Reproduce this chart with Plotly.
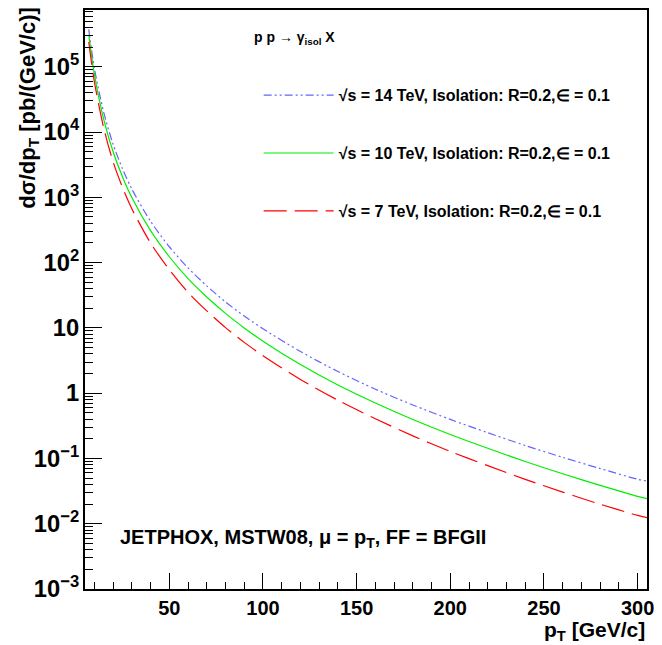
import plotly.graph_objects as go

# pT values (GeV/c)
pt = [7, 10, 15, 20, 25, 30, 40, 50, 60, 70, 80, 90, 100, 120, 140, 160, 180,
      200, 220, 240, 260, 280, 300, 305]

# dsigma/dpT (pb/(GeV/c))
xs_14 = [3.75e5, 9.5e4, 2.0e4, 6.5e3, 2.75e3, 1.34e3, 430, 175, 83, 44, 25, 15.2,
         9.7, 4.35, 2.15, 1.15, 0.66, 0.396, 0.248, 0.158, 0.104, 0.070, 0.048, 0.045]
xs_10 = [3.1e5, 7.7e4, 1.57e4, 5.0e3, 2.07e3, 993, 309, 123, 57, 29.8, 16.7, 10.0,
         6.25, 2.74, 1.33, 0.706, 0.395, 0.233, 0.143, 0.0898, 0.0582, 0.0386, 0.0262, 0.0243]
xs_7 = [2.4e5, 5.9e4, 1.16e4, 3.5e3, 1.42e3, 670, 200, 78, 35, 18.2, 10.1, 6.0,
        3.75, 1.62, 0.78, 0.405, 0.222, 0.128, 0.0775, 0.0478, 0.0305, 0.0199, 0.0134, 0.0124]

names = ["√s = 14 TeV, Isolation: R=0.2,∈ = 0.1",
         "√s = 10 TeV, Isolation: R=0.2,∈ = 0.1",
         "√s = 7 TeV, Isolation: R=0.2,∈ = 0.1"]
colors = ["#6464ff", "#00ee00", "#ff0000"]
dashes = ["8px,3px,2px,3px,2px,3px", "solid", "23px,8px"]

FONT = "Liberation Sans, Arial, sans-serif"

fig = go.Figure()
for i, ys in enumerate([xs_14, xs_10, xs_7]):
    fig.add_trace(go.Scatter(
        x=pt, y=ys, mode="lines", name=names[i], legendgroup=str(i),
        line=dict(color=colors[i], width=1.2, dash=dashes[i], shape="spline", smoothing=0.8),
    ))

fig.update_layout(
    width=662, height=645,
    margin=dict(l=85, r=14, t=8, b=56),
    paper_bgcolor="white", plot_bgcolor="white",
    font=dict(family=FONT, color="black"),
    showlegend=True,
    legend=dict(
        x=0.309, y=0.882, xanchor="left", yanchor="top",
        bgcolor="rgba(0,0,0,0)", borderwidth=0,
        font=dict(family=FONT, size=16, weight="bold"),
        itemwidth=70, tracegroupgap=34,
    ),
    xaxis=dict(
        range=[5, 305], tick0=0, dtick=50,
        showgrid=False, zeroline=False,
        showline=True, linecolor="black", linewidth=2, mirror=True,
        ticks="inside", ticklen=16, tickwidth=1, tickcolor="black",
        tickfont=dict(family=FONT, size=20, weight="bold"),
        minor=dict(ticks="inside", ticklen=7, dtick=10, tickcolor="black", showgrid=False),
    ),
    yaxis=dict(
        type="log", range=[-3, 5.87], dtick=1, exponentformat="power",
        showgrid=False, zeroline=False,
        showline=True, linecolor="black", linewidth=2, mirror=True,
        ticks="inside", ticklen=17, tickwidth=1, tickcolor="black",
        tickfont=dict(family=FONT, size=19, weight="bold"),
        minor=dict(ticks="inside", ticklen=8, dtick="D1", tickcolor="black", showgrid=False),
    ),
    annotations=[
        dict(text="dσ/dp<sub>T</sub> [pb/(GeV/c)]", xref="paper", yref="paper",
             x=-0.1, y=1.0, xanchor="center", yanchor="top", textangle=-90,
             yshift=5, showarrow=False, font=dict(family=FONT, size=22, weight="bold")),
        dict(text="p<sub>T</sub> [GeV/c]", xref="paper", yref="paper",
             x=1.0, y=0, xanchor="right", yanchor="top", yshift=-27,
             showarrow=False, font=dict(family=FONT, size=21, weight="bold")),
        dict(text="p p → γ<sub>isol</sub> X", xref="paper", yref="paper",
             x=0.297, y=0.951, xanchor="left", yanchor="middle",
             showarrow=False, font=dict(family=FONT, size=14, weight="bold")),
        dict(text="JETPHOX, MSTW08, μ = p<sub>T</sub>, FF = BFGII", xref="paper", yref="paper",
             x=0.058, y=0.088, xanchor="left", yanchor="middle",
             showarrow=False, font=dict(family=FONT, size=20, weight="bold")),
    ],
)

fig.write_html("out.html", post_script="document.body.style.margin='0';",
               config={"displayModeBar": False})
